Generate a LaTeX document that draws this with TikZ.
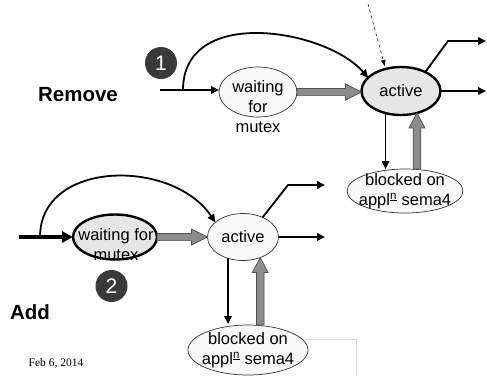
\documentclass[tikz,border=0pt]{standalone}
\usepackage{fontspec}
\setmainfont{Liberation Sans}
\newfontfamily\serifdate{Liberation Serif}
\usetikzlibrary{shapes.geometric,arrows.meta,calc}
\definecolor{lightfill}{HTML}{F8F8F8}
\definecolor{actfill}{HTML}{E6E6E6}
\definecolor{blkgray}{HTML}{8C8C8C}
\definecolor{blkedge}{HTML}{505050}
\definecolor{badge}{HTML}{3A3A3A}
\definecolor{rulegray}{HTML}{D8D8D8}
\tikzset{
 ell/.style={ellipse, draw=black!80, line width=0.7pt, fill=lightfill, inner sep=-14pt, outer sep=0pt, align=center, font=\fontsize{16.5}{20}\selectfont},
 thickell/.style={ell, draw=black, line width=2.4pt, fill=actfill},
 txt/.style={align=center, font=\fontsize{16.5}{20}\selectfont, inner sep=0pt},
 conn/.style={draw=black, line width=1.8pt, -{Triangle[length=8pt,width=7.5pt]}},
 heavy/.style={draw=black, line width=3.8pt, -{Triangle[length=11pt,width=11pt]}},
 hint/.style={draw=black, line width=0.5pt, dashed, -{Triangle[length=6pt,width=4.5pt]}},
 blk/.style={fill=blkgray, draw=blkedge, line width=0.7pt},
 badgenode/.style={circle, fill=badge, text=white, minimum size=32pt, inner sep=0pt, font=\fontsize{21}{21}\selectfont},
 heading/.style={font=\fontsize{20.5}{22}\selectfont\bfseries, inner sep=0pt},
}
\newcommand\hblk[2]{\path[blk] let \p1=#1, \p2=#2 in (\x1,\y1+3.6pt) -- (\x2-16pt,\y1+3.6pt) -- (\x2-16pt,\y1+8pt) -- (\x2,\y1) -- (\x2-16pt,\y1-8pt) -- (\x2-16pt,\y1-3.6pt) -- (\x1,\y1-3.6pt) -- cycle;}
\newcommand\vblk[2]{\path[blk] let \p1=#1, \p2=#2 in (\x2-3.8pt,\y1) -- (\x2-3.8pt,\y2-15pt) -- (\x2-8pt,\y2-15pt) -- (\x2,\y2) -- (\x2+8pt,\y2-15pt) -- (\x2+3.8pt,\y2-15pt) -- (\x2+3.8pt,\y1) -- cycle;}
\begin{document}
\begin{tikzpicture}[x=1pt,y=-1pt]
\useasboundingbox (0,0) rectangle (487,376);
\draw[rulegray, line width=0.6pt] (300,339) -- (356,339) -- (356,376);
% ---------- top (Remove) ----------
\node[thickell, minimum width=79pt, minimum height=48pt] (act1) at (401,91) {active};
\node[ell, minimum width=78pt, minimum height=50pt] (w1) at (258,92) {};
\node[txt] (w1t) at (258,107) {waiting\\for\\mutex};
\node[ell, minimum width=116pt, minimum height=44pt] (blk1) at (405,191) {blocked on\\appl\textsuperscript{\underline{n}} sema4};
\node[badgenode] (c1) at (161,63) {1};
\node[heading] (rm) at (78,95) {Remove};
\coordinate (in1) at (160,90);
\coordinate (arc1) at (183,90);
\draw[conn] (in1) -- (in1 -| w1.west);
\draw[conn] (arc1) .. controls (183,5) and (326,29) .. (act1.158);
\hblk{(w1.east)}{(act1.west)}
\coordinate (d0) at (368,4);
\draw[hint, shorten >=3pt] (d0) -- (act1.125);
\coordinate (o1a) at (448,41);
\coordinate (o1b) at (486,41);
\coordinate (o1c) at (486,91);
\draw[conn] (act1.38) -- (o1a) -- (o1b);
\draw[conn] (act1.east) -- (o1c);
\draw[conn] (act1.-125) -- (act1.-125 |- blk1.north);
\vblk{(act1.-54 |- blk1.north)}{(act1.-54)}
% ---------- bottom (Add) ----------
\node[ell, minimum width=71pt, minimum height=47pt] (act2) at (243,237) {active};
\node[thickell, minimum width=84pt, minimum height=45pt] (w2) at (115,237) {};
\node[txt] (w2t) at (116,245) {waiting for\\mutex};
\node[ell, minimum width=120pt, minimum height=50pt] (blk2) at (248,350) {blocked on\\appl\textsuperscript{\underline{n}} sema4};
\node[badgenode] (c2) at (111.5,286) {2};
\node[heading] (add) at (30,312) {Add};
\node[font=\serifdate\fontsize{11.5}{12}\selectfont, inner sep=0pt] (date) at (56,363) {Feb 6, 2014};
\coordinate (in2) at (19,237);
\coordinate (arc2) at (40,237);
\draw[heavy] (in2) -- (w2.west);
\draw[conn] (arc2) .. controls (40,160) and (172,158) .. (act2.152);
\hblk{(w2.east)}{(act2.west)}
\coordinate (o2a) at (288,185);
\coordinate (o2b) at (325,185);
\coordinate (o2c) at (325,237);
\draw[conn] (act2.45) -- (o2a) -- (o2b);
\draw[conn] (act2.east) -- (o2c);
\draw[conn, shorten >=1pt] (act2.-125) -- (act2.-125 |- blk2.north);
\vblk{(act2.-50 |- blk2.north)}{(act2.-50)}
\end{tikzpicture}
\end{document}
